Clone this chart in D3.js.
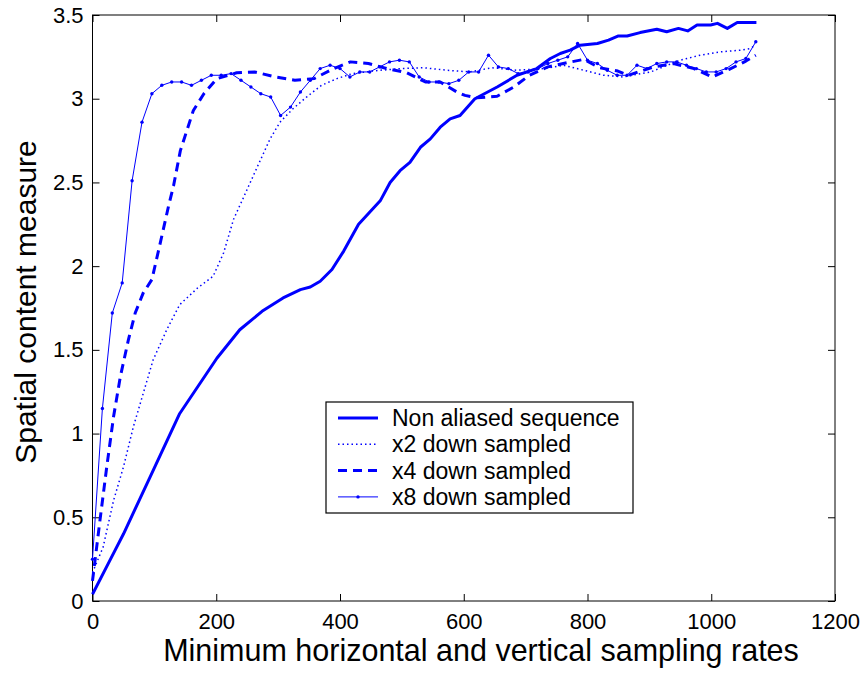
<!DOCTYPE html>
<html>
<head>
<meta charset="utf-8">
<script src="https://cdn.jsdelivr.net/npm/d3@7"></script>
<style>
  body { margin: 0; background: #fff; overflow: hidden; }
  svg { display: block; }
  text { font-family: "Liberation Sans", Arial, sans-serif; fill: #000; }
</style>
</head>
<body>
<svg id="chart"></svg>
<script>
// series
const nonAliasedX = [0, 25, 50, 93, 141, 201, 238, 274, 308, 336, 352, 368, 387, 406, 430, 465, 481, 497, 513, 530, 546, 562, 578, 594, 618, 654, 686, 718, 740, 756, 772, 788, 816, 834, 850, 864, 885, 912, 928, 947, 962, 977, 999, 1010, 1026, 1042, 1073];
const nonAliasedY = [0.04, 0.22, 0.40, 0.74, 1.12, 1.45, 1.62, 1.73, 1.81, 1.86, 1.875, 1.91, 1.98, 2.09, 2.25, 2.39, 2.50, 2.57, 2.62, 2.71, 2.76, 2.83, 2.88, 2.90, 3.00, 3.07, 3.14, 3.18, 3.24, 3.27, 3.29, 3.32, 3.33, 3.35, 3.375, 3.375, 3.395, 3.415, 3.40, 3.42, 3.405, 3.44, 3.44, 3.45, 3.42, 3.455, 3.455];

const x2X = [0, 17, 34, 50, 66, 82, 98, 120, 141, 170, 195, 212, 228, 244, 266, 287, 303, 324, 346, 370, 395, 420, 465, 500, 535, 573, 610, 646, 686, 729, 761, 794, 826, 858, 886, 902, 929, 950, 982, 1015, 1047, 1063, 1072];
const x2Y = [0.17, 0.32, 0.60, 0.80, 1.04, 1.24, 1.44, 1.62, 1.77, 1.87, 1.94, 2.08, 2.28, 2.41, 2.59, 2.76, 2.86, 2.94, 3.01, 3.08, 3.12, 3.15, 3.17, 3.18, 3.185, 3.17, 3.16, 3.185, 3.17, 3.18, 3.20, 3.17, 3.14, 3.13, 3.15, 3.16, 3.20, 3.23, 3.26, 3.28, 3.29, 3.30, 3.32];

const x4X = [0, 12, 23, 34, 45, 58, 69, 82, 96, 109, 123, 131, 142, 163, 180, 201, 233, 262, 295, 327, 358, 390, 417, 446, 476, 508, 538, 562, 589, 602, 621, 654, 681, 706, 736, 767, 794, 819, 849, 866, 882, 907, 939, 972, 1002, 1029, 1056, 1072];
const x4Y = [0.12, 0.48, 0.80, 1.10, 1.34, 1.56, 1.72, 1.84, 1.92, 2.13, 2.36, 2.48, 2.69, 2.93, 3.03, 3.12, 3.155, 3.16, 3.13, 3.11, 3.12, 3.18, 3.22, 3.21, 3.18, 3.155, 3.10, 3.10, 3.04, 3.02, 3.005, 3.015, 3.07, 3.14, 3.19, 3.215, 3.235, 3.185, 3.165, 3.14, 3.16, 3.19, 3.21, 3.18, 3.13, 3.175, 3.225, 3.26];

const x8X = [0, 16, 32, 48, 64, 80, 96, 112, 128, 144, 160, 176, 192, 208, 224, 240, 256, 272, 288, 304, 320, 336, 352, 368, 384, 400, 416, 432, 448, 464, 480, 496, 512, 528, 544, 560, 576, 592, 608, 624, 640, 656, 672, 688, 704, 720, 736, 752, 768, 784, 800, 816, 832, 848, 864, 880, 896, 912, 928, 944, 960, 976, 992, 1008, 1024, 1040, 1056, 1072];
const x8Y = [0.25, 1.15, 1.72, 1.90, 2.51, 2.86, 3.03, 3.08, 3.10, 3.10, 3.08, 3.11, 3.14, 3.14, 3.15, 3.11, 3.07, 3.03, 3.01, 2.90, 2.95, 3.04, 3.11, 3.18, 3.20, 3.18, 3.13, 3.16, 3.16, 3.19, 3.22, 3.23, 3.22, 3.13, 3.10, 3.10, 3.09, 3.11, 3.16, 3.16, 3.26, 3.19, 3.18, 3.15, 3.16, 3.18, 3.21, 3.23, 3.25, 3.33, 3.23, 3.21, 3.17, 3.14, 3.14, 3.20, 3.18, 3.21, 3.22, 3.22, 3.20, 3.18, 3.16, 3.16, 3.18, 3.22, 3.24, 3.34];

const seriesNames = ["Non aliased sequence", "x2 down sampled", "x4 down sampled", "x8 down sampled"];
const xTicks = [0, 200, 400, 600, 800, 1000, 1200];
const yTicks = [0, 0.5, 1, 1.5, 2, 2.5, 3, 3.5];

const width = 865, height = 673;
const margin = {top: 15, right: 30, bottom: 72, left: 92.5};
const innerWidth = width - margin.left - margin.right;
const innerHeight = height - margin.top - margin.bottom;
const blue = "#0000ff";

const svg = d3.select("#chart").attr("width", width).attr("height", height);
const g = svg.append("g").attr("transform", `translate(${margin.left},${margin.top})`);

const x = d3.scaleLinear().domain([0, 1200]).range([0, innerWidth]);
const y = d3.scaleLinear().domain([0, 3.5]).range([innerHeight, 0]);

const zip = (xs, ys) => xs.map((v, i) => [v, ys[i]]);
const series = [
  {name: seriesNames[0], data: zip(nonAliasedX, nonAliasedY), width: 3, dash: null, dots: false},
  {name: seriesNames[1], data: zip(x2X, x2Y), width: 1.5, dash: "1.5,3", dots: false},
  {name: seriesNames[2], data: zip(x4X, x4Y), width: 3, dash: "9,6", dots: false},
  {name: seriesNames[3], data: zip(x8X, x8Y), width: 1, dash: null, dots: true}
];

// axes box with inward ticks on all sides
const tickLen = 7;
const axisStyle = sel => {
  sel.select(".domain").remove();
  sel.selectAll("line").attr("stroke", "#000");
  sel.selectAll("text").style("font-size", "22px").style("font-family", "Liberation Sans, Arial, sans-serif");
};
g.append("g").attr("transform", `translate(0,${innerHeight})`)
  .call(d3.axisBottom(x).tickValues(xTicks).tickFormat(d3.format("d")).tickSizeInner(-tickLen).tickSizeOuter(0).tickPadding(12))
  .call(axisStyle);
g.append("g")
  .call(d3.axisLeft(y).tickValues(yTicks).tickFormat(d3.format("")).tickSizeInner(-tickLen).tickSizeOuter(0).tickPadding(9))
  .call(axisStyle);
g.append("g")
  .call(d3.axisTop(x).tickValues(xTicks).tickSizeInner(-tickLen).tickSizeOuter(0).tickFormat(""))
  .call(axisStyle);
g.append("g").attr("transform", `translate(${innerWidth},0)`)
  .call(d3.axisRight(y).tickValues(yTicks).tickSizeInner(-tickLen).tickSizeOuter(0).tickFormat(""))
  .call(axisStyle);
g.append("rect").attr("width", innerWidth).attr("height", innerHeight)
  .attr("fill", "none").attr("stroke", "#000").attr("stroke-width", 1);

const line = d3.line().x(d => x(d[0])).y(d => y(d[1]));

series.forEach(s => {
  g.append("path").datum(s.data)
    .attr("fill", "none").attr("stroke", blue)
    .attr("stroke-width", s.width)
    .attr("stroke-dasharray", s.dash)
    .attr("stroke-linejoin", "round")
    .attr("d", line);
  if (s.dots) {
    g.append("g").selectAll("circle").data(s.data).join("circle")
      .attr("cx", d => x(d[0])).attr("cy", d => y(d[1])).attr("r", 1.7)
      .attr("fill", blue);
  }
});

// legend
const legend = svg.append("g").attr("transform", "translate(326,402)");
legend.append("rect").attr("width", 307).attr("height", 111)
  .attr("fill", "#fff").attr("stroke", "#000").attr("stroke-width", 1.2);
series.forEach((s, i) => {
  const ly = 16 + i * 26.3;
  legend.append("line").attr("x1", 12).attr("x2", 52).attr("y1", ly).attr("y2", ly)
    .attr("stroke", blue).attr("stroke-width", s.width).attr("stroke-dasharray", s.dash);
  if (s.dots) legend.append("circle").attr("cx", 32).attr("cy", ly).attr("r", 1.7).attr("fill", blue);
  legend.append("text").attr("x", 66).attr("y", ly).attr("dy", "0.35em")
    .style("font-size", "23px").text(s.name);
});

// axis titles
svg.append("text")
  .attr("x", 481).attr("y", 661)
  .attr("text-anchor", "middle").style("font-size", "30.5px")
  .text("Minimum horizontal and vertical sampling rates");
svg.append("text")
  .attr("transform", `translate(36,302) rotate(-90)`)
  .attr("text-anchor", "middle").style("font-size", "30px")
  .text("Spatial content measure");
</script>
</body>
</html>
